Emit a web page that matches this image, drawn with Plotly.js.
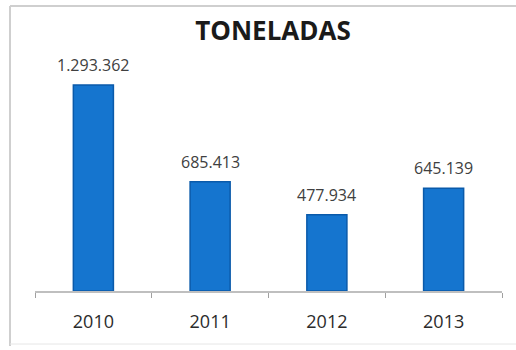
<!DOCTYPE html>
<html>
<head>
<meta charset="utf-8">
<script src="https://cdn.plot.ly/plotly-3.0.1.min.js"></script>
<style>html,body{margin:0;padding:0;background:#fff;}#chart{width:516px;height:350px;}</style>
</head>
<body>
<div id="chart"></div>
<script>
const years = ["2010", "2011", "2012", "2013"];
const toneladas = [1293362, 685413, 477934, 645139];
const valueLabels = ["1.293.362", "685.413", "477.934", "645.139"];

const W = 516, H = 350;
const mL = 35, mR = 14, mT = 60, mB = 59;
const pw = W - mL - mR, ph = H - mT - mB;
const px = x => (x - mL) / pw;
const py = y => (H - mB - y) / ph;
const FONT = "Open Sans, Liberation Sans, sans-serif";

const traces = [{
  type: "bar",
  x: years,
  y: toneladas,
  width: 0.343,
  marker: {color: "#1575CF", line: {color: "#0A5AAA", width: 1.5}},
  hoverinfo: "skip"
}];

// category axis: annotations placed by category index
const annotations = years.map((yr, i) => ({
  x: i, y: toneladas[i], xref: "x", yref: "y",
  text: valueLabels[i], showarrow: false,
  xanchor: "center", yanchor: "bottom", yshift: 7,
  font: {family: FONT, size: 16, color: "#404040"}
}));

const layout = {
  width: W, height: H,
  margin: {l: mL, r: mR, t: mT, b: mB, pad: 0},
  paper_bgcolor: "#ffffff",
  plot_bgcolor: "#ffffff",
  showlegend: false,
  title: {
    text: "<b>TONELADAS</b>",
    font: {family: FONT, size: 26, color: "#1a1a1a"},
    x: px(273), xref: "paper", xanchor: "center",
    y: 1 - 31 / H, yref: "container", yanchor: "middle"
  },
  xaxis: {
    type: "category",
    range: [-0.5, years.length - 0.5],
    showline: true, linecolor: "#bfbfbf", linewidth: 1.5,
    ticks: "outside", tickson: "boundaries", ticklen: 5, tickcolor: "#a0a0a0",
    tickfont: {family: FONT, size: 18, color: "#2b2b2b"},
    ticklabelstandoff: 14,
    showgrid: false, zeroline: false, fixedrange: true
  },
  yaxis: {
    range: [0, 1450000],
    visible: false, showgrid: false, zeroline: false, fixedrange: true
  },
  annotations: annotations,
  shapes: [
    {type: "line", xref: "paper", yref: "paper", x0: px(10), x1: px(10), y0: py(346), y1: py(6),
     line: {color: "#cfcfcf", width: 2}, layer: "below"},
    {type: "line", xref: "paper", yref: "paper", x0: px(10), x1: px(530), y0: py(6), y1: py(6),
     line: {color: "#cfcfcf", width: 2}, layer: "below"},
    {type: "line", xref: "paper", yref: "paper", x0: px(10), x1: px(530), y0: py(344), y1: py(344),
     line: {color: "#e6e6e6", width: 1}, layer: "below"}
  ]
};

Plotly.newPlot("chart", traces, layout, {displayModeBar: false, staticPlot: true});
</script>
</body>
</html>
